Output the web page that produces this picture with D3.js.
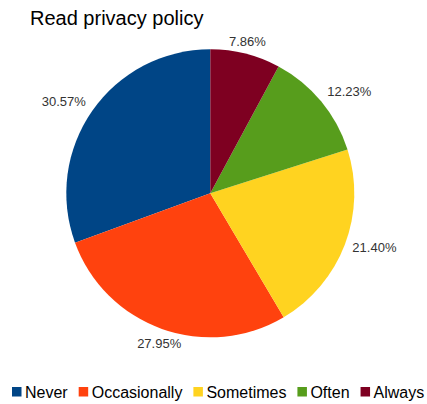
<!DOCTYPE html>
<html>
<head>
<meta charset="utf-8">
<script src="https://cdn.jsdelivr.net/npm/d3@7/dist/d3.min.js"></script>
<style>
  html, body { margin: 0; padding: 0; background: #fff; }
  svg { display: block; font-family: "Liberation Sans", Arial, sans-serif; }
</style>
</head>
<body>
<svg id="chart" width="427" height="404"></svg>
<script>
const title = "Read privacy policy";
const categories = ["Never", "Occasionally", "Sometimes", "Often", "Always"];
const values = [30.57, 27.95, 21.40, 12.23, 7.86];
const colors = ["#004586", "#ff420e", "#ffd320", "#579d1c", "#7e0021"];

const svg = d3.select("#chart");
const cx = 210.3, cy = 193.3, r = 144;

svg.append("text")
  .attr("x", 30).attr("y", 25)
  .attr("font-size", 20).attr("fill", "#000")
  .text(title);

const data = categories.map((c, i) => ({ cat: c, value: values[i], color: colors[i] }));
// counterclockwise from 12 o'clock in legend order
const pie = d3.pie().value(d => d.value).sort(null)
  .startAngle(0).endAngle(-2 * Math.PI);
const arcs = pie(data);
const arc = d3.arc().innerRadius(0).outerRadius(r);

const g = svg.append("g").attr("transform", `translate(${cx},${cy})`);
g.selectAll("path").data(arcs).join("path")
  .attr("d", arc)
  .attr("fill", d => d.data.color);

// labels: anchor point just outside the pie, box aligned by direction
const fmt = d3.format(".2f");
const D = r + 8;
arcs.forEach(a => {
  const mid = (a.startAngle + a.endAngle) / 2;
  const ux = Math.sin(mid), uy = -Math.cos(mid);
  const px = ux * D, py = uy * D;
  const anchor = ux > 0.4 ? "start" : (ux < -0.4 ? "end" : "middle");
  let by;
  if (uy < -0.4) by = py;
  else if (uy > 0.4) by = py + 11.3;
  else by = py + 4.6;
  g.append("text")
    .attr("font-size", 13).attr("fill", "#333")
    .attr("text-anchor", anchor)
    .attr("x", px).attr("y", by)
    .text(fmt(a.data.value) + "%");
});

// legend
let lx = 12;
const ly = 387;
data.forEach(d => {
  svg.append("rect").attr("x", lx).attr("y", ly).attr("width", 9.5).attr("height", 9.5)
    .attr("fill", d.color);
  const t = svg.append("text").attr("x", lx + 13).attr("y", ly + 10.5)
    .attr("font-size", 16).attr("fill", "#000").text(d.cat);
  lx += 13 + t.node().getComputedTextLength() + 11;
});
</script>
</body>
</html>
